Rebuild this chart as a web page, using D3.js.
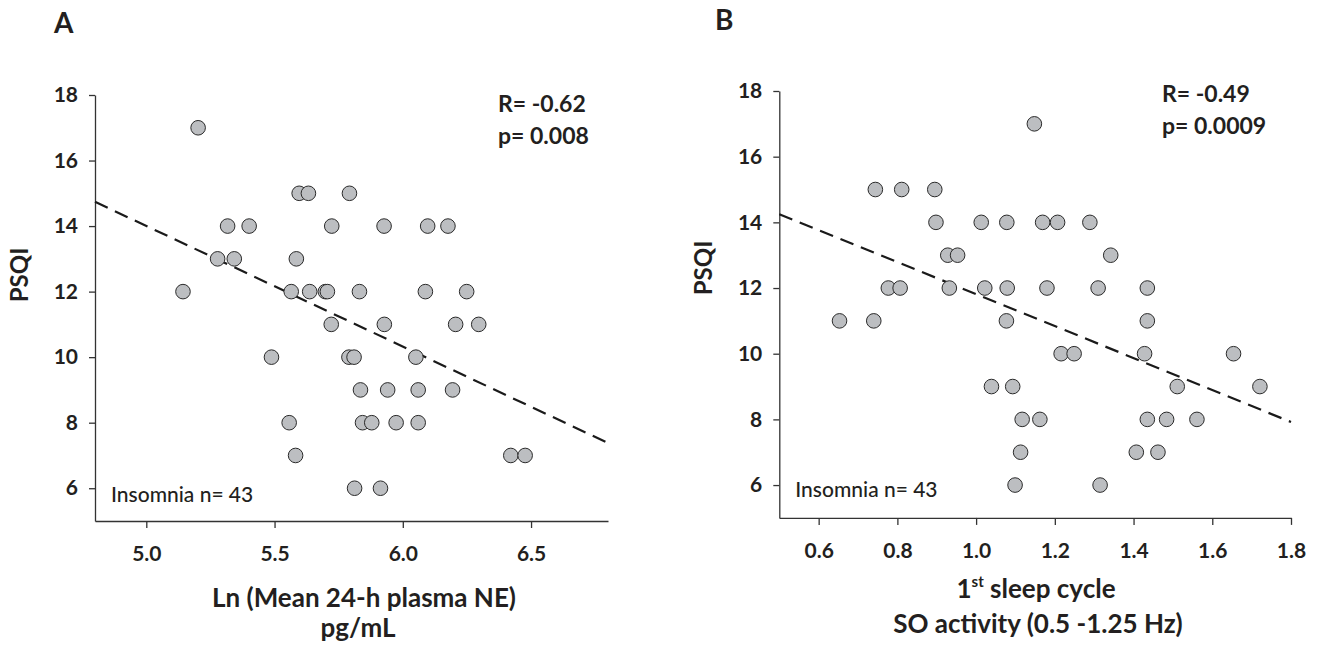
<!DOCTYPE html>
<html>
<head>
<meta charset="utf-8">
<script src="https://cdn.jsdelivr.net/npm/d3@7"></script>
<style>
  body { margin: 0; background: #fff; }
  svg text { font-family: Lato, "Open Sans", sans-serif; fill: #231f20; }
  .axis path, .axis line { stroke: #333; stroke-width: 1.3; }
  .axis text { font-size: 21px; font-weight: 700; }
</style>
</head>
<body>
<div id="wrapper"></div>
<script>
// panel A: Ln(mean 24-h plasma NE) vs PSQI
var neX = [5.202,
  5.596, 5.632, 5.792,
  5.317, 5.401, 5.723, 5.927, 6.097, 6.176,
  5.278, 5.343, 5.585,
  5.143, 5.565, 5.637, 5.698, 5.706, 5.831, 6.088, 6.249,
  5.721, 5.928, 6.206, 6.296,
  5.488, 5.790, 5.810, 6.051,
  5.835, 5.941, 6.060, 6.194,
  5.557, 5.843, 5.879, 5.974, 6.060,
  5.582, 6.421, 6.477,
  5.812, 5.913];
var neY = [17,
  15, 15, 15,
  14, 14, 14, 14, 14, 14,
  13, 13, 13,
  12, 12, 12, 12, 12, 12, 12, 12,
  11, 11, 11, 11,
  10, 10, 10, 10,
  9, 9, 9, 9,
  8, 8, 8, 8, 8,
  7, 7, 7,
  6, 6];
var neFit = [[4.8, 14.74], [6.8, 7.38]];
var neTicks = [5.0, 5.5, 6.0, 6.5];

// panel B: 1st cycle SO activity vs PSQI
var soX = [1.148,
  0.744, 0.811, 0.895,
  0.898, 1.013, 1.078, 1.169, 1.207, 1.289,
  0.928, 0.953, 1.342,
  0.777, 0.807, 0.932, 1.022, 1.079, 1.180, 1.310, 1.435,
  0.653, 0.740, 1.077, 1.435,
  1.216, 1.249, 1.428, 1.654,
  1.039, 1.093, 1.511, 1.721,
  1.117, 1.162, 1.435, 1.484, 1.561,
  1.113, 1.407, 1.462,
  1.099, 1.315];
var soY = [17,
  15, 15, 15,
  14, 14, 14, 14, 14, 14,
  13, 13, 13,
  12, 12, 12, 12, 12, 12, 12, 12,
  11, 11, 11, 11,
  10, 10, 10, 10,
  9, 9, 9, 9,
  8, 8, 8, 8, 8,
  7, 7, 7,
  6, 6];
var soFit = [[0.5, 14.25], [1.8, 7.92]];
var soTicks = [0.6, 0.8, 1.0, 1.2, 1.4, 1.6, 1.8];

var psqiTicks = [6, 8, 10, 12, 14, 16, 18];

var svg = d3.select("#wrapper").append("svg")
    .attr("width", 1318)
    .attr("height", 646);

function drawPanel(opt) {
  var x = d3.scaleLinear().domain(opt.xDomain).range(opt.xRange);
  var y = d3.scaleLinear().domain([5, 18]).range(opt.yRange);
  var g = svg.append("g");

  // x axis
  var xa = g.append("g")
      .attr("class", "axis")
      .attr("transform", "translate(0," + opt.yRange[0] + ")")
      .call(d3.axisBottom(x).tickValues(opt.xTicks).tickSize(7).tickSizeOuter(0)
        .tickFormat(d3.format(".1f")));
  xa.selectAll("text").attr("y", 40).attr("dy", null);

  // y axis
  g.append("g")
      .attr("class", "axis")
      .attr("transform", "translate(" + opt.xRange[0] + ",0)")
      .call(d3.axisLeft(y).tickValues(psqiTicks).tickSize(6).tickSizeOuter(0).tickPadding(11));

  // fit line
  g.append("line")
    .attr("x1", x(opt.fit[0][0])).attr("y1", y(opt.fit[0][1]))
    .attr("x2", x(opt.fit[1][0])).attr("y2", y(opt.fit[1][1]))
    .attr("stroke", "#1a1a1a")
    .attr("stroke-width", 2.2)
    .attr("stroke-dasharray", "14,8");

  // points
  var pts = opt.xs.map(function (v, i) { return {x: v, y: opt.ys[i]}; });
  g.selectAll(".dot")
      .data(pts)
    .enter().append("circle")
      .attr("class", "dot")
      .attr("cx", function (d) { return x(d.x); })
      .attr("cy", function (d) { return y(d.y); })
      .attr("r", 7.3)
      .attr("fill", "#bcbec1")
      .attr("stroke", "#2a2a2a")
      .attr("stroke-width", 1);

  // panel letter
  g.append("text")
    .attr("x", opt.letterX).attr("y", opt.letterY)
    .style("font-size", "28px").style("font-weight", 700)
    .text(opt.letter);

  // R and p
  g.append("text")
    .attr("x", opt.statX).attr("y", opt.statY)
    .style("font-size", "23px").style("font-weight", 700)
    .text(opt.r);
  g.append("text")
    .attr("x", opt.statX).attr("y", opt.statY + 32)
    .style("font-size", "23px").style("font-weight", 700)
    .text(opt.p);

  // n
  g.append("text")
    .attr("x", opt.xRange[0] + 16).attr("y", opt.nY)
    .style("font-size", "21px").style("font-weight", 500)
    .text("Insomnia n= 43");

  // y title
  g.append("text")
    .attr("transform", "translate(" + (opt.xRange[0] - 67.5) + "," + opt.yTitleY + ") rotate(-90)")
    .attr("text-anchor", "middle")
    .style("font-size", "24px").style("font-weight", 700)
    .text("PSQI");

  return g;
}

var gA = drawPanel({
  xs: neX, ys: neY, fit: neFit, xTicks: neTicks,
  xDomain: [4.8, 6.8], xRange: [95, 608], yRange: [521, 95],
  letter: "A", letterX: 54, letterY: 33,
  r: "R= -0.62", p: "p= 0.008", statX: 498, statY: 112,
  nY: 502, yTitleY: 275
});
gA.append("text")
  .attr("x", 364).attr("y", 607)
  .attr("text-anchor", "middle")
  .style("font-size", "26px").style("font-weight", 700)
  .text("Ln (Mean 24-h plasma NE)");
gA.append("text")
  .attr("x", 358).attr("y", 637)
  .attr("text-anchor", "middle")
  .style("font-size", "26px").style("font-weight", 700)
  .text("pg/mL");

var gB = drawPanel({
  xs: soX, ys: soY, fit: soFit, xTicks: soTicks,
  xDomain: [0.5, 1.8], xRange: [779.3, 1291], yRange: [517.9, 91],
  letter: "B", letterX: 715, letterY: 30,
  r: "R= -0.49", p: "p= 0.0009", statX: 1162, statY: 102,
  nY: 497, yTitleY: 268
});
var t1 = gB.append("text")
  .attr("x", 1036).attr("y", 598)
  .attr("text-anchor", "middle")
  .style("font-size", "26px").style("font-weight", 700);
t1.append("tspan").text("1");
t1.append("tspan").attr("dy", -11).style("font-size", "15px").text("st");
t1.append("tspan").attr("dy", 11).text(" sleep cycle");
gB.append("text")
  .attr("x", 1038).attr("y", 633)
  .attr("text-anchor", "middle")
  .style("font-size", "26px").style("font-weight", 700)
  .text("SO activity (0.5 -1.25 Hz)");
</script>
</body>
</html>
